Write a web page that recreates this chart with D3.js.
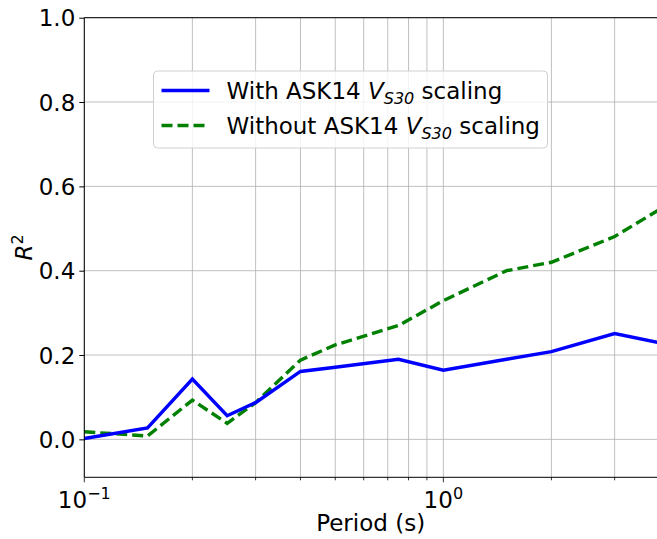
<!DOCTYPE html>
<html>
<head>
<meta charset="utf-8">
<script src="https://cdn.jsdelivr.net/npm/d3@7"></script>
<style>
 body{margin:0;background:#fff}
 text{font-family:"DejaVu Sans",sans-serif;fill:#000}
</style>
</head>
<body>
<div id="chart"></div>
<script>
// periods (s) and R^2 values
const periods = [0.1, 0.15, 0.2, 0.25, 0.3, 0.4, 0.5, 0.75, 1.0, 1.5, 2.0, 3.0, 4.0]
const withVs30 = [0.002, 0.027, 0.143, 0.056, 0.087, 0.161, 0.171, 0.190, 0.164, 0.190, 0.208, 0.251, 0.229]
const withoutVs30 = [0.018, 0.008, 0.093, 0.038, 0.087, 0.188, 0.224, 0.270, 0.329, 0.400, 0.420, 0.481, 0.545]
const yTicks = [0, 0.2, 0.4, 0.6, 0.8, 1.0]
const xMajor = [0.1, 1]
const xMinor = [0.2, 0.3, 0.4, 0.5, 0.6, 0.7, 0.8, 0.9, 2, 3]

const W = 657, H = 539
const pL = 84.3, pT = 17.7, pR = 659.5, pB = 477.3
const fs = "23px", fsSmall = "16px"
const lw = 3.4

const svg = d3.select("#chart").append("svg").attr("width", W).attr("height", H)

const x = d3.scaleLog().domain([0.1, 4]).range([pL, pR])
const y = d3.scaleLinear().domain([-0.09, 1.0]).range([pB, pT])

// grid
const grid = svg.append("g").attr("stroke", "#b0b0b0").attr("stroke-width", 0.8)
grid.selectAll(".gx").data(xMajor.concat(xMinor)).enter().append("line")
  .attr("x1", d => x(d)).attr("x2", d => x(d)).attr("y1", pT).attr("y2", pB)
grid.selectAll(".gy").data(yTicks).enter().append("line")
  .attr("x1", pL).attr("x2", pR).attr("y1", d => y(d)).attr("y2", d => y(d))

// series
const line = d3.line().x((d, i) => x(periods[i])).y(d => y(d))
svg.append("path").datum(withoutVs30).attr("d", line)
  .attr("fill", "none").attr("stroke", "#008000").attr("stroke-width", lw)
  .attr("stroke-dasharray", "11,5")
svg.append("path").datum(withVs30).attr("d", line)
  .attr("fill", "none").attr("stroke", "#0000ff").attr("stroke-width", lw)

// axes
const yAxis = d3.axisLeft(y).tickValues(yTicks).tickFormat(d3.format(".1f")).tickSize(5).tickPadding(4)
const yg = svg.append("g").attr("transform", `translate(${pL},0)`).call(yAxis)
yg.select(".domain").remove()
yg.selectAll("text").style("font-size", fs).attr("dy", "0.35em")

const xg = svg.append("g").attr("transform", `translate(0,${pB})`)
xg.selectAll(".minor").data(xMinor).enter().append("line")
  .attr("x1", d => x(d)).attr("x2", d => x(d)).attr("y1", 0).attr("y2", 3).attr("stroke", "#000").attr("stroke-width", 0.8)
xg.selectAll(".major").data(xMajor).enter().append("line")
  .attr("x1", d => x(d)).attr("x2", d => x(d)).attr("y1", 0).attr("y2", 5).attr("stroke", "#000").attr("stroke-width", 0.8)
const xl = xg.selectAll(".lbl").data(xMajor).enter().append("text")
  .attr("x", d => x(d)).attr("y", 31).attr("text-anchor", "middle").style("font-size", fs)
xl.append("tspan").text("10")
xl.append("tspan").attr("dy", -9).style("font-size", fsSmall).text(d => d === 1 ? "0" : "\u22121")

// spines
svg.append("line").attr("x1", pL).attr("x2", pL).attr("y1", pT).attr("y2", pB).attr("stroke", "#000").attr("stroke-width", 1)
svg.append("line").attr("x1", pL).attr("x2", pR).attr("y1", pB).attr("y2", pB).attr("stroke", "#000").attr("stroke-width", 1)
svg.append("line").attr("x1", pL).attr("x2", pR).attr("y1", pT).attr("y2", pT).attr("stroke", "#000").attr("stroke-width", 1)

// axis titles
svg.append("text").attr("x", (pL + 657) / 2).attr("y", 531).attr("text-anchor", "middle")
  .style("font-size", fs).text("Period (s)")
const yt = svg.append("text").attr("transform", `translate(32,${(pT + pB) / 2}) rotate(-90)`)
  .attr("text-anchor", "middle").style("font-size", fs)
yt.append("tspan").style("font-style", "italic").text("R")
yt.append("tspan").attr("dy", -9).style("font-size", fsSmall).text("2")

// legend
const lg = svg.append("g").attr("transform", "translate(153.5,71)")
lg.append("rect").attr("width", 394).attr("height", 77).attr("rx", 4)
  .attr("fill", "#fff").attr("fill-opacity", 0.8).attr("stroke", "#d0d0d0")
const items = [
  {name: "With ASK14 ", color: "#0000ff", dash: null},
  {name: "Without ASK14 ", color: "#008000", dash: "11,5"}
]
items.forEach((it, i) => {
  const cy = 19.5 + i * 35
  lg.append("line").attr("x1", 8).attr("x2", 56).attr("y1", cy).attr("y2", cy)
    .attr("stroke", it.color).attr("stroke-width", lw).attr("stroke-dasharray", it.dash)
  const t = lg.append("text").attr("x", 73).attr("y", cy + 8).style("font-size", fs)
  t.append("tspan").text(it.name)
  t.append("tspan").style("font-style", "italic").text("V")
  t.append("tspan").attr("dy", 5).style("font-size", fsSmall).style("font-style", "italic").text("S30")
  t.append("tspan").attr("dy", -5).text(" scaling")
})
</script>
</body>
</html>
